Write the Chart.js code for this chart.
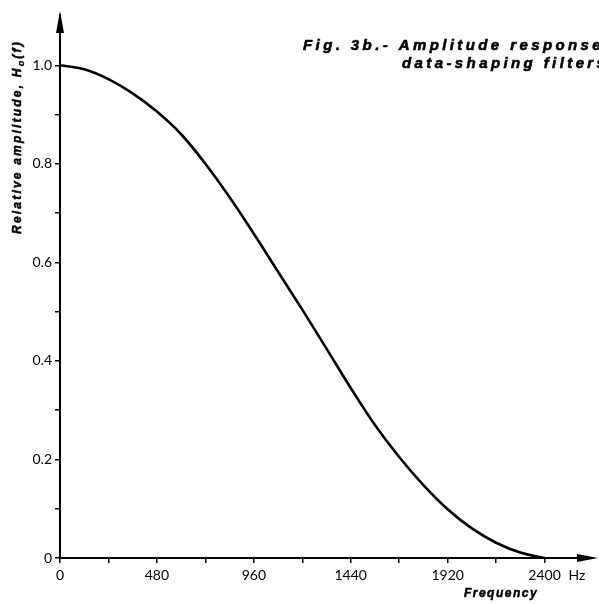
<!DOCTYPE html>
<html>
<head>
<meta charset="utf-8">
<script src="https://cdn.jsdelivr.net/npm/chart.js@4"></script>
<style>
  html, body { margin: 0; padding: 0; background: #fff; }
  #wrap { width: 599px; height: 604px; position: relative; }
</style>
</head>
<body>
<div id="wrap"><canvas id="ampChart"></canvas></div>
<script>
// values (Hz -> relative amplitude)
const frequency = [0, 120, 240, 360, 480, 600, 720, 840, 960, 1080, 1200, 1320, 1440, 1560, 1680, 1800, 1920, 2040, 2160, 2280, 2400];
const amplitude = [1.00, 0.992, 0.972, 0.943, 0.906, 0.86, 0.80, 0.732, 0.658, 0.581, 0.504, 0.425, 0.345, 0.27, 0.205, 0.148, 0.099, 0.06, 0.031, 0.011, 0];

const xTickLabels = ['0', '480', '960', '1440', '1920', '2400'];
const yTickLabels = ['0', '0.2', '0.4', '0.6', '0.8', '1.0'];

const INK = '#000';

// bold text looks heavier in the scan, so add a thin stroke
function heavyText(ctx, txt, x, y, w) {
  ctx.lineWidth = w;
  ctx.strokeText(txt, x, y);
  ctx.fillText(txt, x, y);
}

// arrows, axis titles and figure caption
const extras = {
  id: 'extras',
  afterDraw(chart) {
    const ctx = chart.ctx;
    const area = chart.chartArea;
    ctx.save();
    ctx.fillStyle = INK;
    ctx.strokeStyle = INK;

    // y arrow
    ctx.lineWidth = 2;
    ctx.beginPath();
    ctx.moveTo(area.left, area.top);
    ctx.lineTo(area.left, 14);
    ctx.stroke();
    ctx.beginPath();
    ctx.moveTo(area.left, 11);
    ctx.lineTo(area.left - 4, 33);
    ctx.lineTo(area.left + 4, 33);
    ctx.closePath();
    ctx.fill();

    // x arrow
    ctx.beginPath();
    ctx.moveTo(area.right, area.bottom);
    ctx.lineTo(594, area.bottom);
    ctx.stroke();
    ctx.beginPath();
    ctx.moveTo(598, area.bottom);
    ctx.lineTo(577, area.bottom - 4);
    ctx.lineTo(577, area.bottom + 4);
    ctx.closePath();
    ctx.fill();

    // Hz unit
    ctx.font = '14px Lato';
    ctx.textAlign = 'center';
    ctx.textBaseline = 'top';
    ctx.fillText('Hz', 577, area.bottom + 10);

    // x title
    ctx.font = 'italic bold 12px "Liberation Sans"';
    ctx.letterSpacing = '1.5px';
    ctx.textBaseline = 'alphabetic';
    heavyText(ctx, 'Frequency', 501, 597, 0.5);

    // y title with subscript
    ctx.save();
    ctx.translate(21, 137);
    ctx.rotate(-Math.PI / 2);
    ctx.letterSpacing = '2.2px';
    const main = 'Relative amplitude, H';
    const big = 'italic bold 12px "Liberation Sans"';
    const small = 'italic bold 9px "Liberation Sans"';
    ctx.font = big;
    const w1 = ctx.measureText(main).width;
    const w3 = ctx.measureText('(f)').width;
    ctx.font = small;
    const w2 = ctx.measureText('o').width;
    let x = -(w1 + w2 + w3) / 2;
    ctx.textAlign = 'left';
    ctx.font = big;
    heavyText(ctx, main, x, 0, 0.5);
    x += w1;
    ctx.font = small;
    heavyText(ctx, 'o', x, 3, 0.4);
    x += w2;
    ctx.font = big;
    heavyText(ctx, '(f)', x, 0, 0.5);
    ctx.restore();

    // caption, runs off the right edge as in the scan
    ctx.font = 'italic bold 15px "Liberation Sans"';
    ctx.letterSpacing = '3.4px';
    ctx.textAlign = 'left';
    heavyText(ctx, 'Fig. 3b.- Amplitude response of', 303, 50, 0.6);
    heavyText(ctx, 'data-shaping filters', 402, 68, 0.6);
    ctx.restore();
  }
};

const ctx = document.getElementById('ampChart').getContext('2d');
const ampChart = new Chart(ctx, {
  type: 'line',
  data: {
    datasets: [{
      data: frequency.map((f, i) => ({ x: f, y: amplitude[i] })),
      borderColor: INK,
      borderWidth: 2.6,
      pointRadius: 0,
      fill: false,
      tension: 0.4,
    }],
  },
  options: {
    responsive: true,
    maintainAspectRatio: false,
    animation: false,
    layout: { padding: { top: 16, right: 6, left: 0, bottom: 0 } },
    plugins: { legend: { display: false }, tooltip: { enabled: false } },
    scales: {
      x: {
        type: 'linear',
        min: 0,
        max: 2640,
        afterBuildTicks: s => {
          const t = [];
          for (let v = 0; v <= 2400; v += 240) t.push({ value: v });
          s.ticks = t;
        },
        afterFit: s => { s.height = 46; },
        grid: { drawOnChartArea: false, color: INK, lineWidth: 1.5, tickLength: 5 },
        border: { color: INK, width: 2 },
        ticks: {
          autoSkip: false,
          maxRotation: 0,
          color: INK,
          padding: 4,
          font: { family: 'Lato', size: 14 },
          callback: v => (v % 480 === 0 ? xTickLabels[v / 480] : ''),
        },
      },
      y: {
        min: 0,
        max: 1.1,
        afterBuildTicks: s => {
          const t = [];
          for (let i = 0; i <= 10; i++) t.push({ value: i / 10 });
          s.ticks = t;
        },
        afterFit: s => { s.width = 60; },
        grid: { drawOnChartArea: false, color: INK, lineWidth: 1.5, tickLength: 5 },
        border: { color: INK, width: 2 },
        ticks: {
          autoSkip: false,
          color: INK,
          padding: 3,
          font: { family: 'Lato', size: 14 },
          callback: v => {
            const i = Math.round(v * 10);
            return i % 2 === 0 ? yTickLabels[i / 2] : '';
          },
        },
      },
    },
  },
  plugins: [extras],
});
</script>
</body>
</html>
